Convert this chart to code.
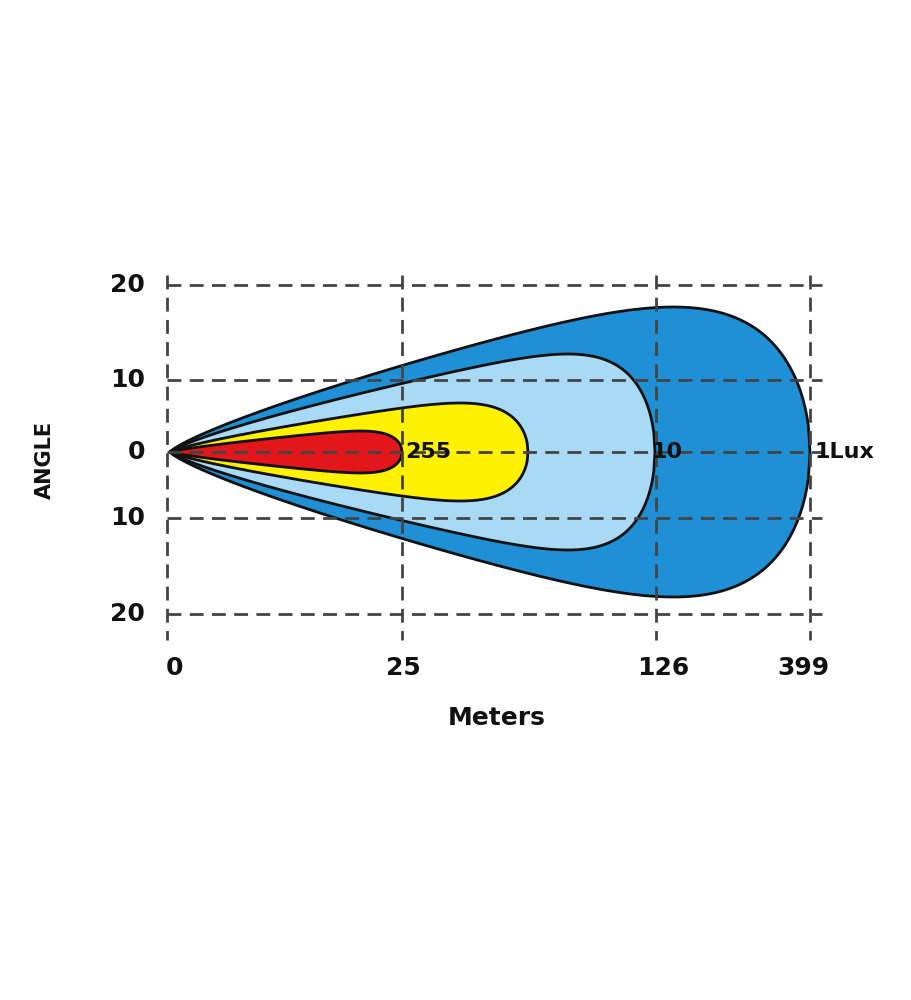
import numpy as np, pandas as pd, matplotlib
matplotlib.use("Agg")
import matplotlib.pyplot as plt, seaborn as sns

sns.set_style("white")
plt.rcParams['font.family'] = ['DejaVu Sans']

x_ticks = ["0", "25", "126", "399"]
x_tick_pos = [167, 402, 656, 810]
y_ticks = ["20", "10", "0", "10", "20"]
y_tick_pos = [285, 380, 452, 518, 614]
lux_labels = ["1Lux", "10", "255", ""]
reach = [640, 485, 358, 232]          # beam length (px units from origin)
half_width = [145, 98, 49, 21]
bluntness = [7, 10, 9, 10]
colors = ["#1f8fd6", "#a9daf5", "#fff200", "#e3161b"]
label_x = [815, 652, 405, None]

ox, oy = 170, 452
fig = plt.figure(figsize=(9.12, 10), dpi=100)
ax = fig.add_axes([0, 0, 1, 1])
ax.set_xlim(0, 912); ax.set_ylim(1000, 0); ax.axis("off")

for xp in x_tick_pos:
    ax.vlines(xp, 275, 640, colors="#444", linestyles=(0, (5, 3)), lw=2, zorder=5)
for yp in y_tick_pos:
    ax.hlines(yp, 167, 822, colors="#444", linestyles=(0, (5, 3)), lw=2, zorder=5)

for L, H, b, c in zip(reach, half_width, bluntness, colors):
    u = np.linspace(0, 1, 400)
    h = u**0.8 * (1 - u**b)**0.5
    h = H * h / h.max()
    xs = np.concatenate([ox + L*u, (ox + L*u)[::-1]])
    ys = np.concatenate([oy - h, (oy + h)[::-1]])
    ax.fill(xs, ys, color=c, zorder=2)
    df = pd.DataFrame({"x": xs, "y": ys})
    sns.lineplot(data=df, x="x", y="y", sort=False, estimator=None, color="#111",
                 lw=2, ax=ax, zorder=3)

for lab, lx in zip(lux_labels, label_x):
    if lx:
        ax.text(lx, oy, lab, ha="left", va="center", fontsize=16, fontweight="bold",
                color="#111", zorder=6)

for lab, yp in zip(y_ticks, y_tick_pos):
    ax.text(145, yp, lab, ha="right", va="center", fontsize=18, fontweight="bold", color="#111")
for lab, xp in zip(x_ticks, [175, 403, 663, 803]):
    ax.text(xp, 668, lab, ha="center", va="center", fontsize=18, fontweight="bold", color="#111")
ax.text(497, 718, "Meters", ha="center", va="center", fontsize=18, fontweight="bold", color="#111")
ax.text(45, 460, "ANGLE", ha="center", va="center", rotation=90, fontsize=15,
        fontweight="bold", color="#111")
fig.savefig("out.png", dpi=100, facecolor="white")
